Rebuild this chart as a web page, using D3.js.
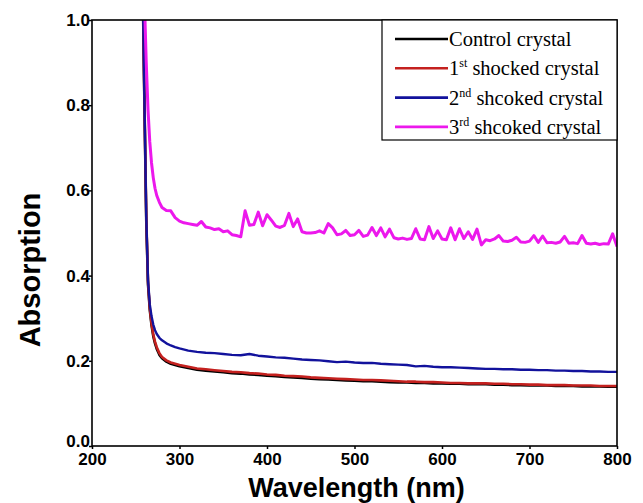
<!DOCTYPE html>
<meta charset="utf-8">
<html>
  <head>
    <style>
      body { margin: 0; background: #fff; }
      text.tick-label { font-family: "Liberation Sans", Arial, sans-serif; font-weight: bold; font-size: 17px; fill: #000; }
      text.axis-title { font-family: "Liberation Sans", Arial, sans-serif; font-weight: bold; font-size: 27px; fill: #000; }
      text.legend-text { font-family: "Liberation Serif", "Times New Roman", serif; font-size: 20.5px; fill: #000; }
    </style>
    <script src="https://cdn.jsdelivr.net/npm/d3@7"></script>
  </head>
  <body>
    <script>

      // wavelength grid for the smooth curves (nm)
      var wlSmooth = [256, 258, 260, 262, 264, 266, 268, 270, 272, 274, 277, 280, 285, 290, 295,
          300, 310, 320, 330, 340, 350, 360, 370, 380, 390,
          400, 410, 420, 430, 440, 450, 460, 470, 480, 490,
          500, 510, 520, 530, 540, 550, 560, 570, 580, 590,
          600, 610, 620, 630, 640, 650, 660, 670, 680, 690,
          700, 710, 720, 730, 740, 750, 760, 770, 780, 790,
          800];

      var controlAbs = [1.35, 1.07, 0.79, 0.53, 0.38, 0.32, 0.284, 0.258, 0.241, 0.228, 0.214, 0.206, 0.198, 0.193, 0.190,
          0.187, 0.183, 0.179, 0.177, 0.175, 0.173, 0.171, 0.170, 0.168, 0.167,
          0.165, 0.164, 0.162, 0.161, 0.160, 0.158, 0.157, 0.156, 0.155, 0.154,
          0.153, 0.152, 0.152, 0.151, 0.150, 0.149, 0.149, 0.148, 0.148, 0.147,
          0.147, 0.146, 0.146, 0.145, 0.145, 0.145, 0.144, 0.144, 0.143, 0.143,
          0.142, 0.142, 0.142, 0.141, 0.141, 0.141, 0.140, 0.140, 0.140, 0.139,
          0.139];

      var shock1Abs = [1.35, 1.08, 0.80, 0.54, 0.385, 0.325, 0.288, 0.262, 0.245, 0.232, 0.218, 0.209, 0.201, 0.196, 0.193,
          0.190, 0.186, 0.182, 0.180, 0.178, 0.176, 0.174, 0.173, 0.171, 0.170,
          0.168, 0.167, 0.165, 0.164, 0.163, 0.161, 0.160, 0.159, 0.158, 0.157,
          0.156, 0.155, 0.155, 0.154, 0.153, 0.152, 0.151, 0.151, 0.150, 0.150,
          0.149, 0.148, 0.148, 0.147, 0.147, 0.147, 0.146, 0.146, 0.145, 0.145,
          0.144, 0.144, 0.143, 0.143, 0.143, 0.142, 0.142, 0.142, 0.141, 0.141,
          0.141];

      var shock2Abs = [1.35, 1.08, 0.80, 0.54, 0.39, 0.333, 0.305, 0.285, 0.272, 0.263, 0.254, 0.248, 0.241, 0.236, 0.232,
          0.229, 0.224, 0.221, 0.219, 0.218, 0.216, 0.214, 0.213, 0.216, 0.212,
          0.210, 0.208, 0.207, 0.205, 0.203, 0.202, 0.201, 0.199, 0.197, 0.198,
          0.196, 0.195, 0.195, 0.193, 0.192, 0.191, 0.190, 0.187, 0.188, 0.186,
          0.185, 0.185, 0.184, 0.183, 0.182, 0.181, 0.181, 0.180, 0.180, 0.179,
          0.179, 0.178, 0.178, 0.177, 0.177, 0.176, 0.176, 0.175, 0.175, 0.174,
          0.174];

      // the 3rd shocked crystal is noisy, so it is read at a finer step
      var wlShock3 = [258, 260, 262, 264, 266, 268, 270, 272, 274, 277, 280, 285, 290, 295,
          300, 305, 310, 315, 320, 325, 330, 335, 340, 345,
          350, 355, 360, 365, 370, 375, 380, 385, 390, 395,
          400, 405, 410, 415, 420, 425, 430, 435, 440, 445,
          450, 455, 460, 465, 470, 475, 480, 485, 490, 495,
          500, 505, 510, 515, 520, 525, 530, 535, 540, 545,
          550, 555, 560, 565, 570, 575, 580, 585, 590, 595,
          600, 605, 610, 615, 620, 625, 630, 635, 640, 645,
          650, 655, 660, 665, 670, 675, 680, 685, 690, 695,
          700, 705, 710, 715, 720, 725, 730, 735, 740, 745,
          750, 755, 760, 765, 770, 775, 780, 785, 790, 795,
          800];

      var shock3Abs = [1.40, 1.04, 0.90, 0.79, 0.715, 0.665, 0.630, 0.605, 0.588, 0.572, 0.560, 0.553, 0.552, 0.536,
          0.528, 0.524, 0.522, 0.520, 0.518, 0.527, 0.514, 0.512, 0.508, 0.510,
          0.503, 0.505, 0.496, 0.494, 0.491, 0.552, 0.518, 0.520, 0.549, 0.517,
          0.543, 0.530, 0.516, 0.513, 0.518, 0.546, 0.515, 0.533, 0.503, 0.500,
          0.500, 0.501, 0.505, 0.500, 0.522, 0.512, 0.496, 0.498, 0.506, 0.494,
          0.496, 0.506, 0.492, 0.495, 0.513, 0.494, 0.512, 0.491, 0.509, 0.489,
          0.486, 0.488, 0.485, 0.487, 0.510, 0.486, 0.484, 0.515, 0.487, 0.505,
          0.486, 0.484, 0.512, 0.484, 0.510, 0.487, 0.503, 0.485, 0.509, 0.472,
          0.484, 0.482, 0.486, 0.494, 0.481, 0.480, 0.483, 0.490, 0.479, 0.478,
          0.481, 0.494, 0.478, 0.493, 0.477, 0.478, 0.476, 0.479, 0.492, 0.476,
          0.477, 0.475, 0.494, 0.476, 0.474, 0.476, 0.473, 0.475, 0.474, 0.498,
          0.468];

      var xTicks = [200, 300, 400, 500, 600, 700, 800];
      var yTicks = [0.0, 0.2, 0.4, 0.6, 0.8, 1.0];

      var legendNames = [["Control crystal", "", ""],
                         ["1", "st", " shocked crystal"],
                         ["2", "nd", " shcoked crystal"],
                         ["3", "rd", " shcoked crystal"]];
      var colors = ["#000000", "#c4211f", "#12129c", "#ec18ec"];

      var width = 643, height = 503;
      var margin = {left: 92, right: 26, top: 20, bottom: 57};
      var plotW = width - margin.left - margin.right,
          plotH = height - margin.top - margin.bottom;

      var svg = d3.select('body').append('svg')
          .attr('width', width)
          .attr('height', height);

      var x = d3.scaleLinear().domain([200, 800]).range([margin.left, margin.left + plotW]);
      var y = d3.scaleLinear().domain([0, 1]).range([margin.top + plotH, margin.top]);

      svg.append("defs").append("clipPath")
          .attr("id", "plot-clip")
          .append("rect")
          .attr("x", margin.left)
          .attr("y", margin.top)
          .attr("width", plotW)
          .attr("height", plotH);

      var series = [
          {wl: wlSmooth, v: controlAbs, width: 2.6},
          {wl: wlSmooth, v: shock1Abs, width: 2.6},
          {wl: wlSmooth, v: shock2Abs, width: 2.4},
          {wl: wlShock3, v: shock3Abs, width: 3}
      ];

      var line = d3.line()
          .x(function(d) { return x(d[0]); })
          .y(function(d) { return y(d[1]); });

      svg.append("g")
          .attr("clip-path", "url(#plot-clip)")
          .selectAll("path")
          .data(series)
          .enter().append("path")
          .attr("d", function(d) { return line(d3.zip(d.wl, d.v)); })
          .attr("fill", "none")
          .attr("stroke", function(d, i) { return colors[i]; })
          .attr("stroke-width", function(d) { return d.width; })
          .attr("stroke-linejoin", "round");

      // axes
      var xAxis = svg.append("g")
          .attr("transform", "translate(0," + (margin.top + plotH) + ")")
          .call(d3.axisBottom(x).tickValues(xTicks).tickSize(3).tickPadding(1).tickFormat(d3.format("d")));
      var yAxis = svg.append("g")
          .attr("transform", "translate(" + margin.left + ",0)")
          .call(d3.axisLeft(y).tickValues(yTicks).tickSize(3).tickPadding(-1).tickFormat(d3.format(".1f")));

      [xAxis, yAxis].forEach(function(a) {
          a.select(".domain").remove();
          a.selectAll("line").attr("stroke", "#000").attr("stroke-width", 1.5);
          a.selectAll("text").attr("class", "tick-label").attr("font-size", null).attr("font-family", null);
      });
      xAxis.selectAll("text").attr("dy", "0.9em");
      // the origin labels crowd each other, nudge 0.0 up a little
      yAxis.selectAll("text").filter(function(d) { return d === 0; }).attr("dy", "0.05em");

      svg.append("rect")
          .attr("x", margin.left)
          .attr("y", margin.top)
          .attr("width", plotW)
          .attr("height", plotH)
          .attr("fill", "none")
          .attr("stroke", "#000")
          .attr("stroke-width", 1.6);

      svg.append("text")
          .attr("class", "axis-title")
          .attr("x", margin.left + plotW / 2 + 2)
          .attr("y", 497)
          .attr("text-anchor", "middle")
          .text("Wavelength (nm)");

      svg.append("text")
          .attr("class", "axis-title")
          .attr("transform", "translate(40,270)rotate(-90)")
          .attr("text-anchor", "middle")
          .style("font-size", "29px")
          .text("Absorption");

      // legend
      var legendX = 382, legendY = margin.top, legendW = x(800) - 382, legendH = 120;
      svg.append("rect")
          .attr("x", legendX)
          .attr("y", legendY)
          .attr("width", legendW)
          .attr("height", legendH)
          .attr("fill", "#fff")
          .attr("stroke", "#000")
          .attr("stroke-width", 1.2);

      var rows = svg.selectAll(".legend")
          .data(legendNames)
          .enter().append("g")
          .attr("class", "legend")
          .attr("transform", function(d, i) { return "translate(" + legendX + "," + (legendY + 19 + i * 29.3) + ")"; });

      rows.append("line")
          .attr("x1", 13).attr("x2", 66)
          .attr("y1", 0).attr("y2", 0)
          .attr("stroke", function(d, i) { return colors[i]; })
          .attr("stroke-width", 2.6);

      var lt = rows.append("text")
          .attr("class", "legend-text")
          .attr("x", 67)
          .attr("y", 7);
      lt.append("tspan").text(function(d) { return d[0]; });
      lt.append("tspan")
          .attr("font-size", "12px")
          .attr("dy", function(d) { return d[1] ? -8 : 0; })
          .text(function(d) { return d[1]; });
      lt.append("tspan")
          .attr("dy", function(d) { return d[1] ? 8 : 0; })
          .text(function(d) { return d[2]; });

    </script>
  </body>
</html>
